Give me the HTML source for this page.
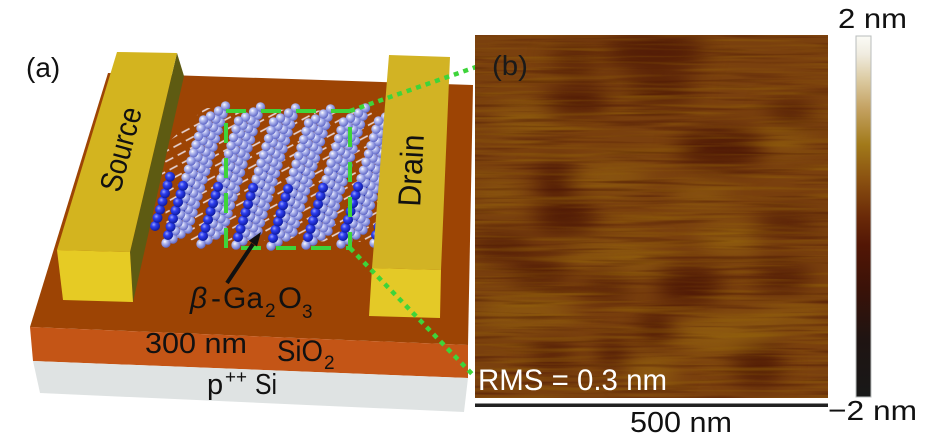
<!DOCTYPE html>
<html><head><meta charset="utf-8"><style>
html,body{margin:0;padding:0;background:#fff;}
svg{display:block;font-family:"Liberation Sans",sans-serif;}
</style></head><body>
<svg width="945" height="444" viewBox="0 0 945 444" xmlns="http://www.w3.org/2000/svg">
<defs>
<radialGradient id="gl" cx="0.38" cy="0.35" r="0.7">
<stop offset="0" stop-color="#ffffff"/><stop offset="0.3" stop-color="#bcc2f2"/><stop offset="1" stop-color="#5760c4"/></radialGradient>
<radialGradient id="gd" cx="0.38" cy="0.35" r="0.7">
<stop offset="0" stop-color="#9aa6ff"/><stop offset="0.35" stop-color="#2f40f0"/><stop offset="1" stop-color="#0a1696"/></radialGradient>
<linearGradient id="cb" x1="0" y1="0" x2="0" y2="1">
<stop offset="0" stop-color="#fbfbf6"/><stop offset="0.05" stop-color="#f0ece0"/><stop offset="0.12" stop-color="#dccba2"/>
<stop offset="0.2" stop-color="#c4a262"/><stop offset="0.3" stop-color="#a27a1a"/><stop offset="0.4" stop-color="#8a5010"/>
<stop offset="0.5" stop-color="#6a2a08"/><stop offset="0.58" stop-color="#521605"/><stop offset="0.7" stop-color="#3a1208"/>
<stop offset="0.84" stop-color="#1f1412"/><stop offset="1" stop-color="#181818"/></linearGradient>
<pattern id="bond" width="14" height="9" patternUnits="userSpaceOnUse" patternTransform="rotate(-28)">
<line x1="0" y1="4.5" x2="9" y2="4.5" stroke="#f4f0ff" stroke-width="1.6"/></pattern>
<g id="c">
<circle cx="0" cy="0" r="4.7" fill="url(#gl)"/><circle cx="2.5" cy="-8.2" r="4.7" fill="url(#gl)"/>
<circle cx="5" cy="-16.4" r="4.7" fill="url(#gl)"/><circle cx="7.5" cy="-24.6" r="4.7" fill="url(#gl)"/>
<circle cx="10" cy="-32.8" r="4.7" fill="url(#gl)"/><circle cx="12.5" cy="-41" r="4.7" fill="url(#gl)"/>
<circle cx="15" cy="-49.2" r="4.7" fill="url(#gl)"/><circle cx="17.5" cy="-57.4" r="4.7" fill="url(#gl)"/>
<circle cx="20" cy="-65.6" r="4.7" fill="url(#gl)"/><circle cx="22.5" cy="-73.8" r="4.7" fill="url(#gl)"/>
<circle cx="25" cy="-82" r="4.7" fill="url(#gl)"/><circle cx="27.5" cy="-90.2" r="4.7" fill="url(#gl)"/>
<circle cx="30" cy="-98.4" r="4.7" fill="url(#gl)"/><circle cx="32.5" cy="-106.6" r="4.7" fill="url(#gl)"/>
<circle cx="35" cy="-114.8" r="4.7" fill="url(#gl)"/><circle cx="37.5" cy="-123" r="4.7" fill="url(#gl)"/>
</g>
<g id="d">
<circle cx="0" cy="0" r="5" fill="url(#gd)"/><circle cx="2.5" cy="-8.2" r="5" fill="url(#gd)"/>
<circle cx="5" cy="-16.4" r="5" fill="url(#gd)"/><circle cx="7.5" cy="-24.6" r="5" fill="url(#gd)"/>
<circle cx="10" cy="-32.8" r="5" fill="url(#gd)"/><circle cx="12.5" cy="-41" r="5" fill="url(#gd)"/>
<circle cx="15" cy="-49.2" r="5" fill="url(#gd)"/>
</g>
<g id="sheet">
<use href="#c" x="22" y="-14"/>
<use href="#c" x="15" y="-9"/>
<use href="#d" x="12" y="-26"/>
<use href="#c" x="7" y="-4"/>
<use href="#c" x="0" y="0"/>
<use href="#d" x="2" y="-8"/>
</g>
<clipPath id="afmclip"><rect x="475" y="35" width="353" height="363"/></clipPath>
<filter id="blur" x="400" y="-50" width="520" height="520" filterUnits="userSpaceOnUse" color-interpolation-filters="sRGB"><feGaussianBlur stdDeviation="11"/></filter>
<filter id="stl" x="475" y="35" width="353" height="363" filterUnits="userSpaceOnUse" color-interpolation-filters="sRGB">
<feTurbulence type="fractalNoise" baseFrequency="0.01 0.25" numOctaves="2" seed="7"/>
<feColorMatrix type="matrix" values="0 0 0 0 0.6  0 0 0 0 0.42  0 0 0 0 0.03  2.6 0 0 0 -1.2"/>
</filter>
<filter id="std" x="475" y="35" width="353" height="363" filterUnits="userSpaceOnUse" color-interpolation-filters="sRGB">
<feTurbulence type="fractalNoise" baseFrequency="0.01 0.25" numOctaves="2" seed="19"/>
<feColorMatrix type="matrix" values="0 0 0 0 0.28  0 0 0 0 0.07  0 0 0 0 0.02  -2.6 0 0 0 1.25"/>
</filter>
</defs>

<!-- Substrate -->
<polygon points="108,73 473,85 468,345 30,327" fill="#9d4404"/>
<polygon points="30,327 468,345 468,378 33,361" fill="#c45516"/>
<polygon points="33,361 468,378 464,412 40,393" fill="#dfe3e3"/>

<!-- lattice bonds -->
<polygon points="160,150 205,108 388,112 388,242 168,240" fill="url(#bond)" opacity="0.85"/>
<!-- lattice spheres -->
<use href="#d" x="155" y="226"/>
<use href="#sheet" x="166" y="243"/>
<use href="#sheet" x="201" y="244"/>
<use href="#sheet" x="236" y="245"/>
<use href="#sheet" x="271" y="246"/>
<use href="#sheet" x="306" y="245"/>
<use href="#sheet" x="341" y="244"/>
<use href="#sheet" x="374" y="243"/>

<!-- Source block -->
<polygon points="177,53 184,76 133,302 130,252" fill="#5e5b12"/>
<polygon points="117,52 177,53 130,252 57,250" fill="#d3b41f"/>
<polygon points="57,250 130,252 133,302 63,300" fill="#e6cb24"/>
<text transform="translate(131,152) rotate(-75)" x="0" y="0" text-anchor="middle" font-size="31" textLength="86" lengthAdjust="spacingAndGlyphs" fill="#111">Source</text>

<!-- Drain block -->
<polygon points="389,55 450,57 441,270 372,268" fill="#d2b324"/>
<polygon points="372,268 441,270 440,318 369,316" fill="#e4c927"/>
<text transform="translate(422,171) rotate(-87)" x="0" y="0" text-anchor="middle" font-size="32" textLength="72" lengthAdjust="spacingAndGlyphs" fill="#111">Drain</text>

<!-- green dashed box and dotted lines -->
<rect x="226" y="111" width="124" height="137" fill="none" stroke="#3ed43a" stroke-width="4" stroke-dasharray="20 15"/>
<line x1="350" y1="111" x2="476" y2="67" stroke="#3ed43a" stroke-width="4.5" stroke-dasharray="5 5"/>
<line x1="350" y1="248" x2="474" y2="376" stroke="#3ed43a" stroke-width="4.5" stroke-dasharray="5 5"/>

<!-- arrow -->
<line x1="227" y1="283" x2="253" y2="244" stroke="#111" stroke-width="4"/>
<polygon points="261,232 257,246.5 248.9,240.6" fill="#111"/>

<!-- left labels -->
<text x="26" y="77" font-size="28" fill="#111">(a)</text>
<text x="190" y="308" font-size="30" font-style="italic" fill="#111">β</text>
<text x="211" y="308" font-size="30" fill="#111">-</text>
<text x="223" y="308" font-size="30" textLength="40" lengthAdjust="spacingAndGlyphs" fill="#111">Ga</text>
<text x="265" y="317" font-size="19" fill="#111">2</text>
<text x="278" y="308" font-size="30" textLength="24" lengthAdjust="spacingAndGlyphs" fill="#111">O</text>
<text x="302" y="318" font-size="19" fill="#111">3</text>
<text x="145" y="353" font-size="29" textLength="102" lengthAdjust="spacingAndGlyphs" fill="#111">300 nm</text>
<text x="277" y="361" font-size="30" textLength="46" lengthAdjust="spacingAndGlyphs" fill="#111">SiO</text>
<text x="324" y="369" font-size="19" fill="#111">2</text>
<text x="207" y="394" font-size="29" fill="#111">p</text>
<text x="225" y="383" font-size="18" textLength="22" lengthAdjust="spacingAndGlyphs" fill="#111">++</text>
<text x="255" y="394" font-size="29" textLength="22" lengthAdjust="spacingAndGlyphs" fill="#111">Si</text>

<!-- AFM image -->
<g clip-path="url(#afmclip)">
<rect x="475" y="35" width="353" height="363" fill="#7a400e"/>
<g filter="url(#blur)">
<g fill="#4a1404" opacity="0.85">
<ellipse cx="655" cy="52" rx="52" ry="18"/><ellipse cx="575" cy="58" rx="26" ry="10"/>
<ellipse cx="578" cy="100" rx="34" ry="14"/><ellipse cx="660" cy="90" rx="36" ry="12"/>
<ellipse cx="720" cy="148" rx="44" ry="19"/><ellipse cx="790" cy="112" rx="24" ry="11"/>
<ellipse cx="555" cy="180" rx="19" ry="17"/><ellipse cx="565" cy="218" rx="33" ry="17"/>
<ellipse cx="500" cy="247" rx="32" ry="11"/><ellipse cx="540" cy="272" rx="30" ry="12"/>
<ellipse cx="690" cy="285" rx="33" ry="20"/><ellipse cx="655" cy="328" rx="18" ry="16"/>
<ellipse cx="612" cy="353" rx="16" ry="14"/><ellipse cx="552" cy="356" rx="22" ry="11"/>
<ellipse cx="758" cy="365" rx="26" ry="20"/><ellipse cx="785" cy="222" rx="30" ry="10"/>
<ellipse cx="783" cy="277" rx="30" ry="12"/><ellipse cx="605" cy="288" rx="26" ry="9"/>
</g>
<g fill="#9c6c12" opacity="0.6">
<ellipse cx="525" cy="118" rx="34" ry="11"/><ellipse cx="500" cy="193" rx="27" ry="9"/>
<ellipse cx="610" cy="177" rx="42" ry="11"/><ellipse cx="600" cy="252" rx="42" ry="10"/>
<ellipse cx="730" cy="240" rx="32" ry="15"/><ellipse cx="640" cy="263" rx="32" ry="8"/>
<ellipse cx="525" cy="312" rx="52" ry="13"/><ellipse cx="725" cy="335" rx="52" ry="19"/>
<ellipse cx="790" cy="316" rx="35" ry="10"/><ellipse cx="650" cy="372" rx="27" ry="17"/>
<ellipse cx="785" cy="138" rx="27" ry="11"/><ellipse cx="700" cy="195" rx="32" ry="9"/>
</g>
</g>
<rect x="475" y="35" width="353" height="363" filter="url(#stl)" opacity="0.45"/>
<rect x="475" y="35" width="353" height="363" filter="url(#std)" opacity="0.6"/>
</g>
<text x="492" y="75" font-size="28" textLength="36" lengthAdjust="spacingAndGlyphs" fill="#1a1a1a">(b)</text>
<text x="478" y="390" font-size="30" textLength="189" lengthAdjust="spacingAndGlyphs" fill="#ffffff">RMS = 0.3 nm</text>

<!-- scale bar -->
<rect x="475" y="403.5" width="353" height="3.5" fill="#222"/>
<text x="630" y="432" font-size="29" textLength="102" lengthAdjust="spacingAndGlyphs" fill="#111">500 nm</text>

<!-- colorbar -->
<rect x="856" y="36" width="15" height="361" fill="url(#cb)" stroke="#b8bcbc" stroke-width="1"/>
<text x="838" y="28" font-size="28" textLength="69" lengthAdjust="spacingAndGlyphs" fill="#111">2 nm</text>
<text x="828" y="420" font-size="28" textLength="89" lengthAdjust="spacingAndGlyphs" fill="#111">−2 nm</text>
</svg>
</body></html>
